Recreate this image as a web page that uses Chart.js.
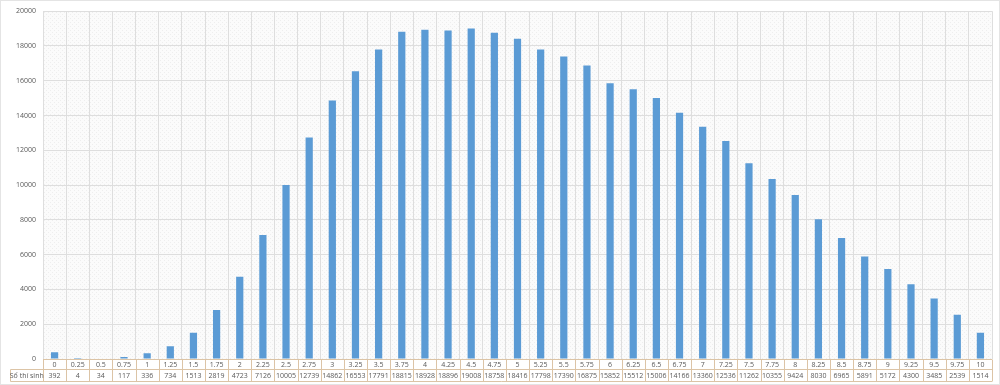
<!DOCTYPE html>
<html>
  <head>
    <script src="https://cdn.jsdelivr.net/npm/chart.js@4"></script>
    <style>
      html, body { margin: 0; padding: 0; background: #fff; }
      #wrap { width: 1000px; height: 385px; }
    </style>
  </head>
  <body>
    <div id="wrap"><canvas id="canvas"></canvas></div>
    <script>
      const scores = ['0', '0.25', '0.5', '0.75', '1', '1.25', '1.5', '1.75', '2', '2.25', '2.5', '2.75',
        '3', '3.25', '3.5', '3.75', '4', '4.25', '4.5', '4.75', '5', '5.25', '5.5', '5.75', '6', '6.25',
        '6.5', '6.75', '7', '7.25', '7.5', '7.75', '8', '8.25', '8.5', '8.75', '9', '9.25', '9.5', '9.75', '10'];
      const students = [392, 4, 34, 117, 336, 734, 1513, 2819, 4723, 7126, 10005, 12739,
        14862, 16553, 17791, 18815, 18928, 18896, 19008, 18758, 18416, 17798, 17390, 16875, 15852, 15512,
        15006, 14166, 13360, 12536, 11262, 10355, 9424, 8030, 6965, 5891, 5172, 4300, 3485, 2539, 1514];
      const rowLabel = 'Số thí sinh';

      const font = '"Open Sans", "Liberation Sans", sans-serif';
      const textColor = '#595959';
      const tableLine = '#dcc4a6';

      // light hatched plot background, like the Excel one
      const makePattern = () => {
        const p = document.createElement('canvas');
        p.width = 4; p.height = 4;
        const g = p.getContext('2d');
        g.fillStyle = '#fbfbfb';
        g.fillRect(0, 0, 4, 4);
        g.fillStyle = '#eeeeee';
        g.fillRect(0, 0, 1, 1);
        g.fillRect(2, 2, 1, 1);
        return g.createPattern(p, 'repeat');
      };

      const plotBg = {
        id: 'plotBg',
        beforeDraw(chart) {
          const { ctx, chartArea: a } = chart;
          ctx.save();
          ctx.fillStyle = makePattern();
          ctx.fillRect(a.left, a.top, a.right - a.left, a.bottom - a.top);
          ctx.strokeStyle = '#e4e4e4';
          ctx.strokeRect(0.5, 0.5, chart.width - 1, chart.height - 1);
          ctx.restore();
        },
      };

      const dataTable = {
        id: 'dataTable',
        afterDraw(chart) {
          const { ctx, chartArea: a } = chart;
          const x = chart.scales.x;
          const half = (x.getPixelForValue(1) - x.getPixelForValue(0)) / 2;
          const top = a.bottom + 0.5;
          const mid = top + 10;
          const bot = mid + 12;
          const labelLeft = 10.5;
          ctx.save();
          ctx.strokeStyle = tableLine;
          ctx.lineWidth = 1;
          ctx.beginPath();
          ctx.moveTo(a.left, top); ctx.lineTo(a.right, top);
          ctx.moveTo(labelLeft, mid); ctx.lineTo(a.right, mid);
          ctx.moveTo(labelLeft, bot); ctx.lineTo(a.right, bot);
          ctx.moveTo(labelLeft, mid); ctx.lineTo(labelLeft, bot);
          for (let i = 0; i <= scores.length; i++) {
            const px = Math.round(x.getPixelForValue(0) - half + i * half * 2) + 0.5;
            ctx.moveTo(px, top); ctx.lineTo(px, bot);
          }
          ctx.stroke();

          ctx.fillStyle = textColor;
          ctx.font = '7px ' + font;
          ctx.textAlign = 'center';
          ctx.textBaseline = 'middle';
          scores.forEach((s, i) => {
            const px = x.getPixelForValue(i);
            ctx.fillText(s, px, (top + mid) / 2 + 0.5);
            ctx.fillText(String(students[i]), px, (mid + bot) / 2 + 0.5);
          });
          ctx.fillText(rowLabel, (labelLeft + a.left) / 2, (mid + bot) / 2 + 0.5);
          ctx.restore();
        },
      };

      new Chart(document.getElementById('canvas'), {
        type: 'bar',
        data: {
          labels: scores,
          datasets: [{
            label: rowLabel,
            data: students,
            backgroundColor: '#5b9bd5',
            barPercentage: 0.6,
            categoryPercentage: 0.52,
          }],
        },
        options: {
          responsive: true,
          maintainAspectRatio: false,
          animation: false,
          layout: { padding: { top: 7, right: 8, bottom: 26, left: 0 } },
          plugins: {
            legend: { display: false },
            tooltip: { enabled: false },
          },
          scales: {
            x: {
              grid: { color: '#dedede', offset: true, drawTicks: false },
              border: { display: false },
              ticks: { display: false },
            },
            y: {
              min: 0,
              max: 20000,
              ticks: {
                stepSize: 2000,
                color: textColor,
                font: { size: 7, family: font },
                padding: 7,
                callback: (v) => String(v),
              },
              grid: { color: '#dedede', drawTicks: false },
              border: { display: false },
              afterFit(scale) { scale.width = 43; },
            },
          },
        },
        plugins: [plotBg, dataTable],
      });
    </script>
  </body>
</html>
